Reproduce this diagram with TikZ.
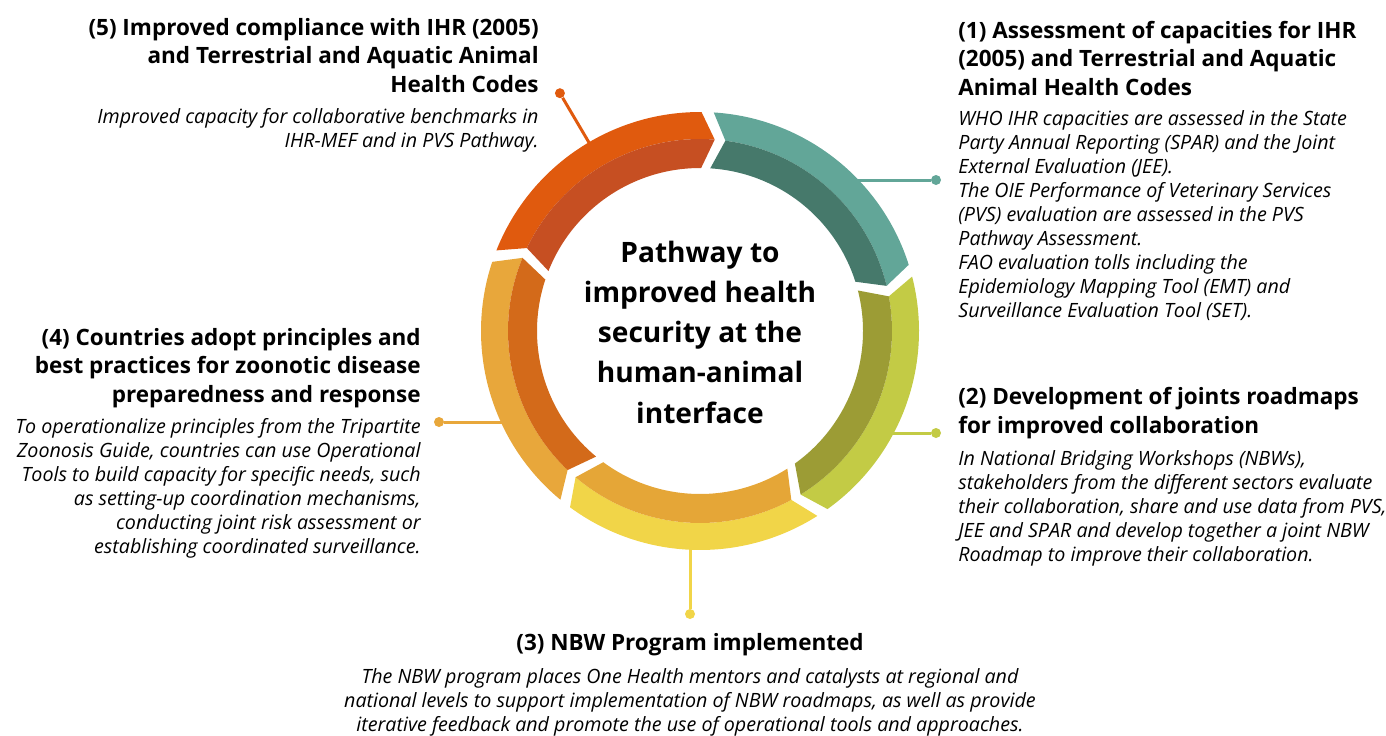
\documentclass[tikz,border=0pt]{standalone}
\usepackage{fontspec}
\setmainfont{Open Sans}
\usetikzlibrary{calc}
\definecolor{tealout}{RGB}{98,166,152}
\definecolor{tealin}{RGB}{70,121,107}
\definecolor{oliveout}{RGB}{195,203,69}
\definecolor{olivein}{RGB}{156,156,53}
\definecolor{yellowout}{RGB}{241,213,72}
\definecolor{yellowin}{RGB}{229,166,55}
\definecolor{amberout}{RGB}{232,167,59}
\definecolor{amberin}{RGB}{211,106,26}
\definecolor{rustout}{RGB}{224,90,14}
\definecolor{rustin}{RGB}{198,79,34}

\tikzset{
    head/.style={font=\bfseries\fontsize{12.8}{16.2}\selectfont, inner sep=0pt},
    body/.style={font=\itshape\fontsize{11.2}{13.66}\selectfont, inner sep=0pt},
    dot/.style={circle, fill=#1, inner sep=0pt, minimum size=0.2cm},
    link/.style={line width=1.7pt, draw=#1},
}

\begin{document}
\begin{tikzpicture}[x=0.02cm, y=0.02cm]

    \useasboundingbox (0,0) rectangle (1386,-735);
    \def\rin{163} \def\rmid{192} \def\rout{219} \def\tip{4}

    \coordinate (c) at (700,-331);

    % connectors and dots
    \node[dot=tealout] (d1) at (936,-180) {};
    \node[dot=oliveout] (d2) at (936,-433) {};
    \node[dot=yellowout] (d3) at (690,-614) {};
    \node[dot=amberout] (d4) at (439,-422) {};
    \node[dot=rustout] (d5) at ($(c)+(120.5:276)$) {};

    \coordinate (e1) at (840,-180);
    \coordinate (e2) at (880,-433);
    \coordinate (e3) at (690,-530);
    \coordinate (e4) at (520,-422);
    \coordinate (e5) at ($(c)+(120.5:200)$);

    \foreach \i/\co in {1/tealout,2/oliveout,3/yellowout,4/amberout,5/rustout}{
        \draw[link=\co] (e\i) -- (d\i);
    }

    % ring: outer band light, inner band dark
    \begin{scope}[shift={(700,-331)}]
    \foreach \s/\e/\co/\ci in {86.4/17.6/tealout/tealin, 14.4/-54.4/oliveout/olivein,
            -57.6/-126.4/yellowout/yellowin, -129.6/-198.4/amberout/amberin,
            158.4/89.6/rustout/rustin}{
        \fill[\co] (\s:\rout) arc[start angle=\s, end angle=\e, radius=\rout]
            -- (\e-\tip:\rmid) arc[start angle=\e-\tip, end angle=\s-\tip, radius=\rmid] -- cycle;
        \fill[\ci] (\s-\tip:\rmid) arc[start angle=\s-\tip, end angle=\e-\tip, radius=\rmid]
            -- (\e:\rin) arc[start angle=\e, end angle=\s, radius=\rin] -- cycle;
    }
    \end{scope}

    \node[font=\bfseries\fontsize{16}{22.8}\selectfont, align=center, anchor=base, inner sep=0pt] (title) at (700,-423)
        {Pathway to\\improved health\\security at the\\human-animal\\interface};

    % (1)
    \node[head, anchor=base west, align=left] (h1) at (958,-95)
        {(1) Assessment of capacities for IHR\\(2005) and Terrestrial and Aquatic\\Animal Health Codes};
    \node[body, anchor=base west, align=left] (b1) at (958,-317)
        {WHO IHR capacities are assessed in the State\\Party Annual Reporting (SPAR) and the Joint\\External Evaluation (JEE).\\The OIE Performance of Veterinary Services\\(PVS) evaluation are assessed in the PVS\\Pathway Assessment.\\FAO evaluation tolls including the\\Epidemiology Mapping Tool (EMT) and\\Surveillance Evaluation Tool (SET).};

    % (2)
    \node[head, anchor=base west, align=left] (h2) at (958,-433)
        {(2) Development of joints roadmaps\\for improved collaboration};
    \node[body, anchor=base west, align=left] (b2) at (958,-561)
        {In National Bridging Workshops (NBWs),\\stakeholders from the different sectors evaluate\\their collaboration, share and use data from PVS,\\JEE and SPAR and develop together a joint NBW\\Roadmap to improve their collaboration.};

    % (3)
    \node[head, anchor=base, align=center] (h3) at (690,-650)
        {(3) NBW Program implemented};
    \node[body, anchor=base, align=center] (b3) at (690,-731)
        {The NBW program places One Health mentors and catalysts at regional and\\national levels to support implementation of NBW roadmaps, as well as provide\\iterative feedback and promote the use of operational tools and approaches.};

    % (4)
    \node[head, anchor=base east, align=right] (h4) at (421,-402)
        {(4) Countries adopt principles and\\best practices for zoonotic disease\\preparedness and response};
    \node[body, anchor=base east, align=right] (b4) at (421,-553)
        {To operationalize principles from the Tripartite\\Zoonosis Guide, countries can use Operational\\Tools to build capacity for specific needs, such\\as setting-up coordination mechanisms,\\conducting joint risk assessment or\\establishing coordinated surveillance.};

    % (5)
    \node[head, anchor=base east, align=right] (h5) at (539,-92)
        {(5) Improved compliance with IHR (2005)\\and Terrestrial and Aquatic Animal\\Health Codes};
    \node[body, anchor=base east, align=right] (b5) at (539,-147)
        {Improved capacity for collaborative benchmarks in\\IHR-MEF and in PVS Pathway.};

\end{tikzpicture}
\end{document}
